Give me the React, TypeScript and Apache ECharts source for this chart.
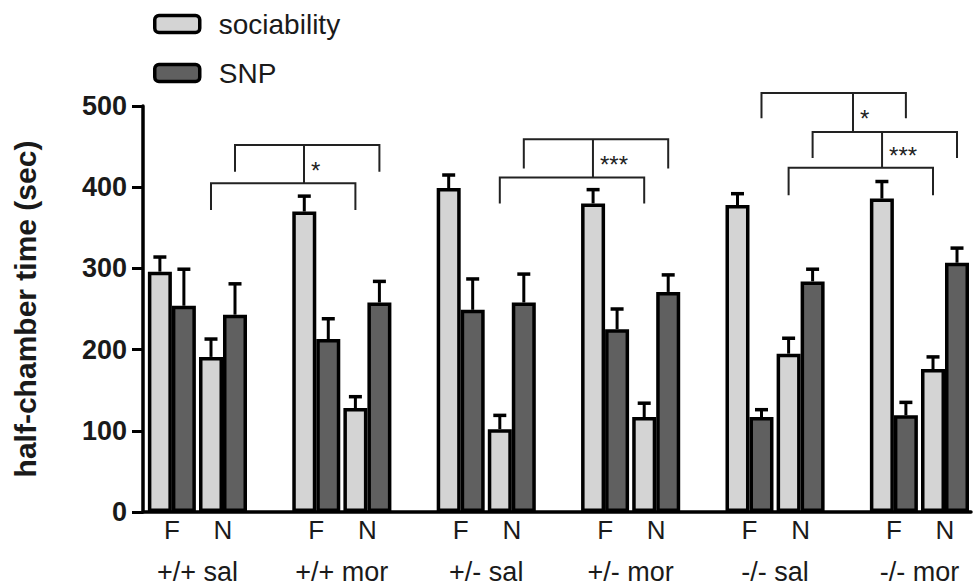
import React, { useEffect, useRef } from "react";
import * as echarts from "echarts";

// ---- data ----
const groups = ["+/+ sal", "+/+ mor", "+/- sal", "+/- mor", "-/- sal", "-/- mor"];
const subLabels = ["F", "N"];
const subOffset = [0, 0.354];
// order: group1 F, group1 N, group2 F, group2 N, ...
const sociability = [296, 191, 370, 128, 399, 102, 380, 117, 378, 195, 386, 176];
const sociabilityErr = [18, 22, 19, 14, 16, 17, 17, 17, 14, 19, 21, 15];
const snp = [254, 243, 213, 258, 249, 258, 225, 271, 117, 284, 119, 307];
const snpErr = [45, 38, 25, 26, 38, 35, 25, 21, 9, 15, 16, 18];
const yTicks = [0, 100, 200, 300, 400, 500];

// significance brackets: [left bar index, left series(0 soc/1 snp), right bar index, right series, y, leg y]
const brackets = [
  [1, 1, 3, 1, 452, 419],
  [1, 0, 3, 0, 405, 372],
  [5, 1, 7, 1, 459, 423],
  [5, 0, 7, 0, 412, 380],
  [8, 1, 10, 1, 516, 485],
  [9, 1, 11, 1, 468, 436],
  [9, 0, 11, 0, 424, 390],
];
// connectors between brackets: [x position, upper y, lower y]
const connectors = [
  [0.915, 452, 405],
  [2.916, 459, 412],
  [4.717, 516, 468],
  [4.918, 468, 424],
];
const starLabels = ["*", "***", "*", "***"];

const FONT = "'Liberation Sans', Arial, Helvetica, sans-serif";
const BAR_W = 24;
const HALF = BAR_W / 2;
const X_MIN = -0.2;
const X_MAX = 5.534;

const positions = sociability.map((_, k) => Math.floor(k / 2) + subOffset[k % 2]);
const groupCenters = groups.map((_, g) => g + (subOffset[0] + subOffset[1]) / 2);

function findIdx(arr: number[], v: number) {
  let best = -1;
  let bd = Infinity;
  arr.forEach((a, i) => {
    const d = Math.abs(a - v);
    if (d < bd) {
      bd = d;
      best = i;
    }
  });
  return bd < 0.01 ? best : -1;
}

export default function App() {
  const ref = useRef<HTMLDivElement>(null);
  useEffect(() => {
    if (!ref.current) return;
    const chart = echarts.init(ref.current, null, { renderer: "svg" });

    const errData = (vals: number[], errs: number[], side: number) =>
      vals.map((v, k) => [positions[k], v, errs[k], side]);

    const errRender = (params: any, api: any) => {
      const x0 = api.value(0);
      const v = api.value(1);
      const e = api.value(2);
      const side = api.value(3);
      const p = api.coord([x0, v]);
      const t = api.coord([x0, v + e]);
      const x = p[0] + side * HALF;
      return {
        type: "group",
        children: [
          {
            type: "line",
            shape: { x1: x, y1: p[1], x2: x, y2: t[1] },
            style: { stroke: "#000", lineWidth: 3 },
          },
          {
            type: "line",
            shape: { x1: x - 6.5, y1: t[1], x2: x + 6.5, y2: t[1] },
            style: { stroke: "#000", lineWidth: 3.5 },
          },
        ],
      };
    };

    const bracketData = brackets.map((b) => [
      positions[b[0]],
      b[4],
      positions[b[2]],
      b[5],
      b[1] === 0 ? -1 : 1,
      b[3] === 0 ? -1 : 1,
    ]);

    const connectorData = connectors.map((c, i) => [c[0], c[1], c[2], i]);

    chart.setOption({
      animation: false,
      backgroundColor: "#fff",
      textStyle: { fontFamily: FONT },
      legend: {
        data: ["sociability", "SNP"],
        orient: "vertical",
        left: 148,
        top: 4,
        itemWidth: 45,
        itemHeight: 17,
        itemGap: 19,
        icon: "roundRect",
        itemStyle: { borderColor: "#000", borderWidth: 3.5 },
        textStyle: {
          fontSize: 28,
          color: "#1a1a1a",
          fontFamily: FONT,
          lineHeight: 30,
          padding: [0, 0, 0, 14],
        },
        selectedMode: false,
      },
      grid: { left: 143, right: 2, top: 106, bottom: 76, containLabel: false },
      xAxis: [
        {
          type: "value",
          min: X_MIN,
          max: X_MAX,
          axisLine: { show: true, onZero: false, lineStyle: { color: "#000", width: 3.5 } },
          axisTick: { show: false },
          splitLine: { show: false },
          axisLabel: {
            customValues: positions,
            formatter: (v: number) => {
              const i = findIdx(positions, v);
              return i >= 0 ? subLabels[i % 2] : "";
            },
            fontSize: 26,
            color: "#1a1a1a",
            fontFamily: FONT,
            margin: 5,
          },
        },
        {
          type: "value",
          min: X_MIN,
          max: X_MAX,
          position: "bottom",
          axisLine: { show: false, onZero: false },
          axisTick: { show: false },
          splitLine: { show: false },
          axisLabel: {
            customValues: groupCenters,
            formatter: (v: number) => {
              const i = findIdx(groupCenters, v);
              return i >= 0 ? groups[i] : "";
            },
            fontSize: 27,
            color: "#1a1a1a",
            fontFamily: FONT,
            margin: 46,
          },
        },
      ],
      yAxis: {
        type: "value",
        min: yTicks[0],
        max: yTicks[yTicks.length - 1],
        interval: 100,
        name: "half-chamber time (sec)",
        nameLocation: "middle",
        nameGap: 103,
        nameTextStyle: { fontSize: 30, fontWeight: "bold", color: "#1a1a1a", fontFamily: FONT },
        axisLine: { show: true, onZero: false, lineStyle: { color: "#000", width: 3.5 } },
        axisTick: { show: true, length: 11, lineStyle: { color: "#000", width: 3 } },
        splitLine: { show: false },
        axisLabel: {
          fontSize: 27,
          fontWeight: "bold",
          color: "#1a1a1a",
          fontFamily: FONT,
          margin: 16,
        },
      },
      series: [
        {
          name: "sociability",
          type: "bar",
          barWidth: BAR_W,
          barGap: "0%",
          data: sociability.map((v, k) => [positions[k], v]),
          itemStyle: { color: "#d4d4d4", borderColor: "#000", borderWidth: 3.5 },
          z: 3,
        },
        {
          name: "SNP",
          type: "bar",
          barWidth: BAR_W,
          barGap: "0%",
          data: snp.map((v, k) => [positions[k], v]),
          itemStyle: { color: "#606060", borderColor: "#000", borderWidth: 3.5 },
          z: 3,
        },
        {
          name: "socErr",
          type: "custom",
          data: errData(sociability, sociabilityErr, -1),
          renderItem: errRender,
          encode: { x: 0, y: 1 },
          z: 2,
          clip: false,
        },
        {
          name: "snpErr",
          type: "custom",
          data: errData(snp, snpErr, 1),
          renderItem: errRender,
          encode: { x: 0, y: 1 },
          z: 2,
          clip: false,
        },
        {
          name: "brackets",
          type: "custom",
          data: bracketData,
          encode: { x: [0, 2], y: [1, 3] },
          clip: false,
          z: 4,
          renderItem: (params: any, api: any) => {
            const l = api.coord([api.value(0), api.value(1)]);
            const r = api.coord([api.value(2), api.value(1)]);
            const legY = api.coord([api.value(0), api.value(3)])[1];
            const xl = l[0] + api.value(4) * HALF;
            const xr = r[0] + api.value(5) * HALF;
            return {
              type: "polyline",
              shape: { points: [[xl, legY], [xl, l[1]], [xr, l[1]], [xr, legY]] },
              style: { stroke: "#222", lineWidth: 2, fill: "none" },
            };
          },
        },
        {
          name: "connectors",
          type: "custom",
          data: connectorData,
          encode: { x: 0, y: [1, 2] },
          clip: false,
          z: 4,
          renderItem: (params: any, api: any) => {
            const a = api.coord([api.value(0), api.value(1)]);
            const b = api.coord([api.value(0), api.value(2)]);
            const lab = starLabels[api.value(3)];
            return {
              type: "group",
              children: [
                {
                  type: "line",
                  shape: { x1: a[0], y1: a[1], x2: b[0], y2: b[1] },
                  style: { stroke: "#222", lineWidth: 2 },
                },
                {
                  type: "text",
                  style: {
                    text: lab,
                    x: a[0] + 7,
                    y: (a[1] + b[1]) / 2 + 6,
                    fill: "#222",
                    font: `24px ${FONT}`,
                    textAlign: "left",
                    textVerticalAlign: "middle",
                  },
                },
              ],
            };
          },
        },
      ],
    });
    return () => chart.dispose();
  }, []);
  return (
    <div
      ref={ref}
      style={{ position: "fixed", left: 0, top: 0, width: 973, height: 588, background: "#fff" }}
    />
  );
}
